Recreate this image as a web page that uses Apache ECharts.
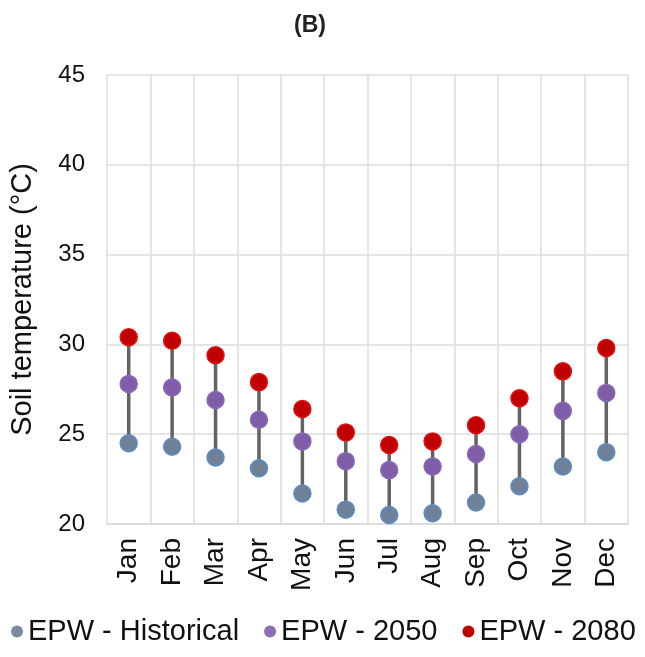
<!DOCTYPE html>
<html>
<head>
<meta charset="utf-8">
<script src="https://cdn.jsdelivr.net/npm/echarts@6/dist/echarts.min.js"></script>
<style>
  html, body { margin: 0; padding: 0; background: #fff; }
  #chart { width: 645px; height: 657px; }
</style>
</head>
<body>
<div id="chart"></div>
<script>
// data
const months = ['Jan', 'Feb', 'Mar', 'Apr', 'May', 'Jun', 'Jul', 'Aug', 'Sep', 'Oct', 'Nov', 'Dec'];
const historical = [24.5, 24.3, 23.7, 23.1, 21.7, 20.8, 20.5, 20.6, 21.2, 22.1, 23.2, 24.0];
const epw2050 = [27.8, 27.6, 26.9, 25.8, 24.6, 23.5, 23.0, 23.2, 23.9, 25.0, 26.3, 27.3];
const epw2080 = [30.4, 30.2, 29.4, 27.9, 26.4, 25.1, 24.4, 24.6, 25.5, 27.0, 28.5, 29.8];

const font = 'Liberation Sans, Arial, sans-serif';
const chart = echarts.init(document.getElementById('chart'));

const dot = (name, data, color, border) => ({
  name: name,
  type: 'scatter',
  data: data,
  symbolSize: 17,
  z: 3,
  itemStyle: { color: color, borderColor: border, borderWidth: 1.5, opacity: 1 },
});

const option = {
  animation: false,
  title: {
    text: '(B)',
    left: 289,
    top: 9,
    textStyle: { fontFamily: font, fontWeight: 'bold', fontSize: 23, color: '#222' },
  },
  grid: { left: 105, right: 17, top: 75, bottom: 133 },
  legend: {
    bottom: 6,
    left: 6,
    width: 900,
    icon: 'circle',
    itemWidth: 12,
    itemHeight: 12,
    itemGap: 25,
    textStyle: { fontFamily: font, fontSize: 29, color: '#111' },
    data: [
      { name: 'EPW - Historical', itemStyle: { color: '#7b8aa0', borderWidth: 0 } },
      { name: 'EPW - 2050', itemStyle: { color: '#8d6cb2', borderWidth: 0 } },
      { name: 'EPW - 2080', itemStyle: { color: '#c00000', borderWidth: 0 } },
    ],
  },
  xAxis: {
    type: 'category',
    data: months,
    boundaryGap: true,
    axisLine: { lineStyle: { color: '#d9d9d9', width: 1.5 } },
    axisTick: { show: false },
    splitLine: { show: true, interval: 0, lineStyle: { color: '#dcdcdc', width: 1.5 } },
    axisLabel: { rotate: 90, interval: 0, margin: 14, fontFamily: font, fontSize: 28, color: '#111' },
  },
  yAxis: {
    type: 'value',
    min: 20,
    max: 45,
    interval: 5,
    name: 'Soil temperature (°C)',
    nameLocation: 'middle',
    nameGap: 70,
    nameTextStyle: { fontFamily: font, fontSize: 29, color: '#111' },
    axisLine: { show: false },
    axisTick: { show: false },
    splitLine: { lineStyle: { color: '#dcdcdc', width: 1.5 } },
    axisLabel: { margin: 22, fontFamily: font, fontSize: 24, color: '#111' },
  },
  series: [
    {
      name: 'range',
      type: 'custom',
      z: 2,
      silent: true,
      data: months.map((m, i) => [i, historical[i], epw2080[i]]),
      renderItem: (params, api) => {
        const a = api.coord([api.value(0), api.value(1)]);
        const b = api.coord([api.value(0), api.value(2)]);
        return {
          type: 'line',
          shape: { x1: a[0], y1: a[1], x2: b[0], y2: b[1] },
          style: { stroke: '#636363', lineWidth: 3.5 },
        };
      },
    },
    dot('EPW - Historical', historical, '#6e8198', '#5b8ec8'),
    dot('EPW - 2050', epw2050, '#7f5da9', '#8a6ab5'),
    dot('EPW - 2080', epw2080, '#c00000', '#e01010'),
  ],
};
chart.setOption(option);
</script>
</body>
</html>
